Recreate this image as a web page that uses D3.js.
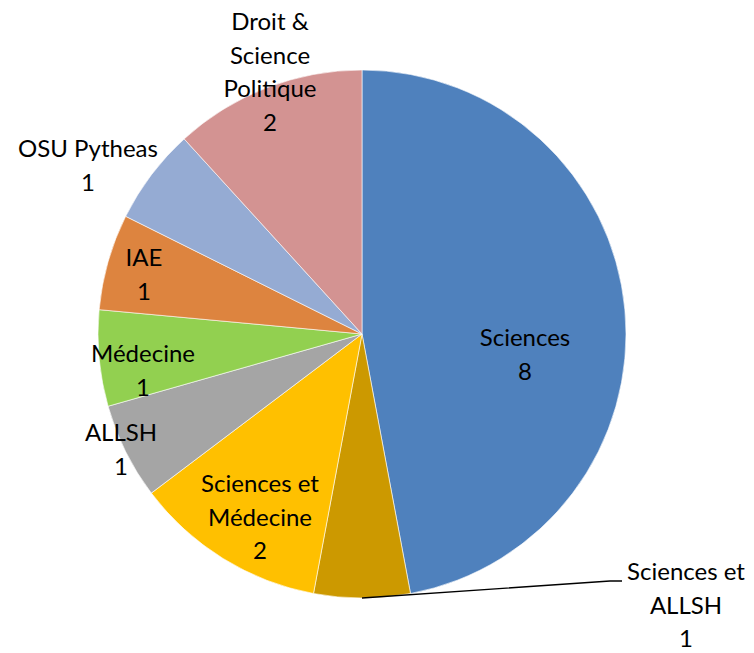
<!DOCTYPE html>
<html>
<head>
<meta charset="utf-8">
<script src="https://cdn.jsdelivr.net/npm/d3@7"></script>
<style>
body { margin: 0; background: #fff; }
text { font-family: Lato, "Open Sans", sans-serif; font-size: 24px; fill: #000; }
</style>
</head>
<body>
<svg width="754" height="653"></svg>
<script>
var categories = ["Sciences", "Sciences et ALLSH", "Sciences et Médecine", "ALLSH", "Médecine", "IAE", "OSU Pytheas", "Droit & Science Politique"];
var values = [8, 1, 2, 1, 1, 1, 1, 2];
var colors = ["#4F81BD", "#CC9900", "#FFC000", "#A5A5A5", "#92D050", "#DD843F", "#95ABD3", "#D39392"];
// label lines as shown on the chart
var labelLines = [["Sciences"], ["Sciences et", "ALLSH"], ["Sciences et", "Médecine"], ["ALLSH"], ["Médecine"], ["IAE"], ["OSU Pytheas"], ["Droit &", "Science", "Politique"]];

// label anchors (centre of first line), layout only
var labelPos = [[525, 338], [686, 572], [260, 484], [121, 433], [143, 354], [144, 258], [88, 149], [270, 22]];

function main() {
	var svg = d3.select("svg");
	var cx = 362, cy = 334, r = 264, lh = 33.5;

	var g = svg.append("g").attr("transform", "translate(" + cx + "," + cy + ")");

	var data = categories.map(function(c, i){ return {name: c, value: values[i], i: i}; });
	var pie = d3.pie().sort(null).value(function(d){ return d.value; });
	var arc = d3.arc().innerRadius(0).outerRadius(r);
	var arcs = pie(data);

	g.selectAll(".slice")
		.data(arcs)
		.enter().append("path")
		.attr("class", "slice")
		.attr("d", arc)
		.attr("fill", function(d){ return colors[d.data.i]; })
		.attr("stroke", "#fff")
		.attr("stroke-width", 0.6);

	// leader line for the small slice at the bottom
	var a = arcs[1];
	var mid = (a.startAngle + a.endAngle) / 2;
	var px = cx + Math.sin(mid) * r, py = cy - Math.cos(mid) * r;
	var lp = labelPos[1];
	svg.append("path")
		.attr("d", "M" + px + "," + py + "L" + (lp[0] - 76) + "," + (lp[1] + 9) + "L" + (lp[0] - 64) + "," + (lp[1] + 9))
		.attr("fill", "none")
		.attr("stroke", "#000")
		.attr("stroke-width", 1.3);

	data.forEach(function(d, i){
		var lines = labelLines[i].concat([String(d.value)]);
		var t = svg.append("text")
			.attr("text-anchor", "middle");
		lines.forEach(function(l, k){
			t.append("tspan")
				.attr("x", labelPos[i][0])
				.attr("y", labelPos[i][1] + k * lh)
				.attr("dy", "0.35em")
				.text(l);
		});
	});
}
main();
</script>
</body>
</html>
